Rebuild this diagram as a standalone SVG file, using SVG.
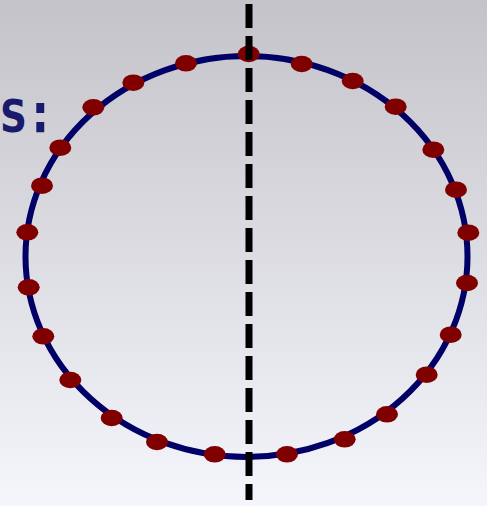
<svg xmlns="http://www.w3.org/2000/svg" width="487" height="506" viewBox="0 0 487 506">
  <defs>
    <linearGradient id="bg" x1="0" y1="0" x2="0" y2="1">
      <stop offset="0" stop-color="#c3c3c9"/>
      <stop offset="1" stop-color="#f5f6fc"/>
    </linearGradient>
  </defs>
  <style>
    .ring { fill: none; stroke: #000066; stroke-width: 6; }
    .dot { fill: #800000; }
    .cut { stroke: #000000; stroke-width: 7; stroke-dasharray: 24 8; fill: none; }
    .lbl { font-family: "DejaVu Sans", "Liberation Sans", sans-serif; font-weight: bold; font-size: 44px; fill: #1a1a6c; }
  </style>
  <rect x="0" y="0" width="487" height="506" fill="url(#bg)"/>
  <g id="label">
    <text class="lbl" y="132" transform="scale(0.85,1)"><tspan x="0">S</tspan><tspan x="36.8" style="font-size:53px">:</tspan></text>
  </g>
  <g id="ring">
    <ellipse class="ring" cx="246.5" cy="256.5" rx="221" ry="200.5"/>
  </g>
  <g id="dots">
    <ellipse class="dot" cx="248.7" cy="54" rx="11" ry="8.3"/>
    <ellipse class="dot" cx="186" cy="63.3" rx="11" ry="8.3"/>
    <ellipse class="dot" cx="133.3" cy="82.7" rx="11" ry="8.3"/>
    <ellipse class="dot" cx="93.3" cy="107.3" rx="11" ry="8.3"/>
    <ellipse class="dot" cx="60.3" cy="147.7" rx="11" ry="8.3"/>
    <ellipse class="dot" cx="42" cy="185.7" rx="11" ry="8.3"/>
    <ellipse class="dot" cx="27.3" cy="232.3" rx="11" ry="8.3"/>
    <ellipse class="dot" cx="28.7" cy="287.3" rx="11" ry="8.3"/>
    <ellipse class="dot" cx="43.3" cy="336.3" rx="11" ry="8.3"/>
    <ellipse class="dot" cx="70.3" cy="380" rx="11" ry="8.3"/>
    <ellipse class="dot" cx="111.7" cy="418" rx="11" ry="8.3"/>
    <ellipse class="dot" cx="157" cy="442" rx="11" ry="8.3"/>
    <ellipse class="dot" cx="214.7" cy="454.3" rx="11" ry="8.3"/>
    <ellipse class="dot" cx="287" cy="454.3" rx="11" ry="8.3"/>
    <ellipse class="dot" cx="344.7" cy="439.3" rx="11" ry="8.3"/>
    <ellipse class="dot" cx="387" cy="414.3" rx="11" ry="8.3"/>
    <ellipse class="dot" cx="426.7" cy="374.7" rx="11" ry="8.3"/>
    <ellipse class="dot" cx="450.7" cy="334.7" rx="11" ry="8.3"/>
    <ellipse class="dot" cx="467" cy="283" rx="11" ry="8.3"/>
    <ellipse class="dot" cx="468.3" cy="232.7" rx="11" ry="8.3"/>
    <ellipse class="dot" cx="456" cy="189.7" rx="11" ry="8.3"/>
    <ellipse class="dot" cx="433.3" cy="149.7" rx="11" ry="8.3"/>
    <ellipse class="dot" cx="395.7" cy="106.7" rx="11" ry="8.3"/>
    <ellipse class="dot" cx="352.7" cy="81" rx="11" ry="8.3"/>
    <ellipse class="dot" cx="301.7" cy="64" rx="11" ry="8.3"/>
  </g>
  <g id="connectors">
    <line class="cut" x1="249" y1="4" x2="249" y2="500"/>
  </g>
</svg>
